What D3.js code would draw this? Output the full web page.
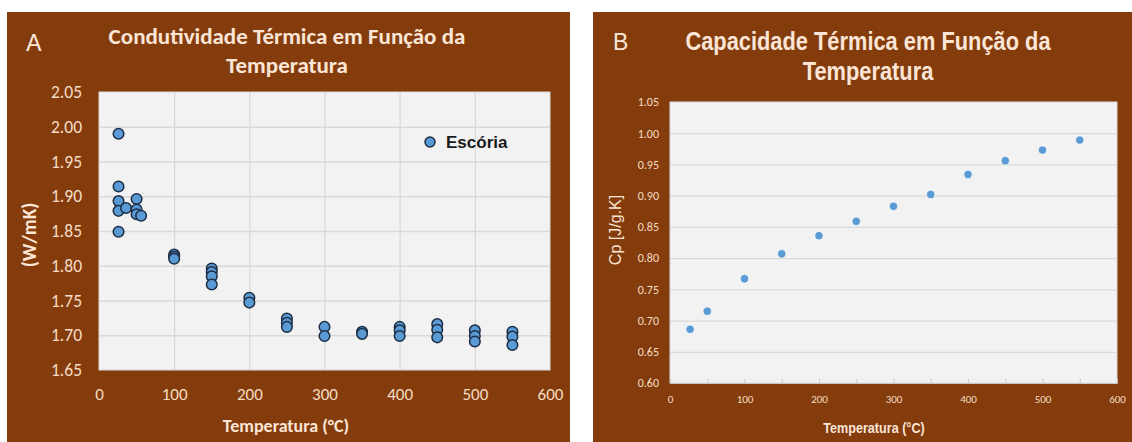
<!DOCTYPE html>
<html>
<head>
<meta charset="utf-8">
<script src="https://cdn.jsdelivr.net/npm/d3@7"></script>
<style>
  body { margin: 0; background: #fff; }
  svg { display: block; }
</style>
</head>
<body>
<div id="chart-area"></div>
<script>
// panel A - condutividade (escória)
const tempA = [26, 26, 26, 26, 26, 36, 50, 50, 50, 56, 100, 100, 100, 150, 150, 150, 150, 200, 200,
  250, 250, 250, 300, 300, 350, 350, 400, 400, 400, 450, 450, 450, 500, 500, 500, 550, 550, 550];
const condA = [1.990, 1.914, 1.893, 1.879, 1.849, 1.883, 1.896, 1.881, 1.874, 1.872, 1.816, 1.813, 1.810,
  1.796, 1.791, 1.785, 1.773, 1.754, 1.747, 1.724, 1.718, 1.712, 1.712, 1.699, 1.705, 1.702,
  1.712, 1.707, 1.699, 1.716, 1.708, 1.697, 1.707, 1.699, 1.691, 1.705, 1.698, 1.686];
const xTicksA = [0, 100, 200, 300, 400, 500, 600];
const yTicksA = [1.65, 1.70, 1.75, 1.80, 1.85, 1.90, 1.95, 2.00, 2.05];

// panel B - capacidade termica
const tempB = [27, 50, 100, 150, 200, 250, 300, 350, 400, 450, 500, 550];
const cpB = [0.686, 0.715, 0.767, 0.807, 0.836, 0.859, 0.883, 0.902, 0.934, 0.956, 0.973, 0.989];
const xTicksB = [0, 50, 100, 150, 200, 250, 300, 350, 400, 450, 500, 550, 600];
const yTicksB = [0.60, 0.65, 0.70, 0.75, 0.80, 0.85, 0.90, 0.95, 1.00, 1.05];

let width = 1132;
let height = 442;
let brown = '#843c0c';
let cream = '#fbe5d6';
let peach = '#f6dcc5';
let dotFill = '#5b9bd5';
let plotBg = '#f2f2f2';
let gridColor = '#d9d9d9';
let fontA = 'Carlito, Lato, sans-serif';
let fontB = '"Liberation Sans", Arial, sans-serif';
let narrow = 0.84; //no Arial Narrow installed, squeeze Arial instead

let svg = d3
  .select('#chart-area')
  .append('svg')
  .attr('width', width)
  .attr('height', height);

//backgrounds
svg.append('rect').attr('x', 7).attr('y', 12).attr('width', 563).attr('height', 430).attr('fill', brown);
svg.append('rect').attr('x', 593).attr('y', 12).attr('width', 539).attr('height', 430).attr('fill', brown);

// ---------- panel A ----------
let padA = { left: 99, right: 550, top: 92, bottom: 370 };
let xA = d3.scaleLinear().domain([0, 600]).range([padA.left, padA.right]);
let yA = d3.scaleLinear().domain([1.65, 2.05]).range([padA.bottom, padA.top]);

let gA = svg.append('g').attr('id', 'panel-a');

gA.append('rect')
  .attr('x', padA.left)
  .attr('y', padA.top)
  .attr('width', padA.right - padA.left)
  .attr('height', padA.bottom - padA.top)
  .attr('fill', plotBg)
  .attr('stroke', gridColor);

//grid
gA.append('g')
  .attr('transform', `translate(0, ${padA.bottom})`)
  .call(d3.axisBottom(xA).tickValues(xTicksA.slice(1, -1)).tickSize(-(padA.bottom - padA.top)).tickFormat(''))
  .call((g) => g.select('.domain').remove())
  .call((g) => g.selectAll('line').attr('stroke', gridColor).attr('stroke-width', 1.3));
gA.append('g')
  .attr('transform', `translate(${padA.left}, 0)`)
  .call(d3.axisLeft(yA).tickValues(yTicksA.slice(1, -1)).tickSize(-(padA.right - padA.left)).tickFormat(''))
  .call((g) => g.select('.domain').remove())
  .call((g) => g.selectAll('line').attr('stroke', gridColor).attr('stroke-width', 1.3));

//axes labels
gA.append('g')
  .attr('transform', `translate(0, ${padA.bottom})`)
  .call(d3.axisBottom(xA).tickValues(xTicksA).tickSize(0).tickPadding(18).tickFormat(d3.format('d')))
  .call((g) => g.select('.domain').remove())
  .call((g) => g.selectAll('text').attr('fill', peach).attr('font-size', 17).attr('font-family', fontA));
gA.append('g')
  .attr('transform', `translate(${padA.left}, 0)`)
  .call(d3.axisLeft(yA).tickValues(yTicksA).tickSize(0).tickPadding(17).tickFormat(d3.format('.2f')))
  .call((g) => g.select('.domain').remove())
  .call((g) => g.selectAll('text').attr('fill', peach).attr('font-size', 17.5).attr('font-family', fontA));

//titles
gA.append('text')
  .attr('x', 26)
  .attr('y', 51)
  .attr('fill', cream)
  .attr('font-family', fontA)
  .attr('font-size', 27)
  .text('A');
gA.append('text')
  .attr('text-anchor', 'middle')
  .attr('fill', cream)
  .attr('font-family', fontA)
  .attr('font-weight', 'bold')
  .attr('font-size', 23)
  .selectAll('tspan')
  .data(['Condutividade Térmica em Função da', 'Temperatura'])
  .enter()
  .append('tspan')
  .attr('x', 287)
  .attr('y', (d, i) => 44 + i * 29)
  .text((d) => d);
gA.append('text')
  .attr('text-anchor', 'middle')
  .attr('x', 286)
  .attr('y', 432)
  .attr('fill', cream)
  .attr('font-family', fontA)
  .attr('font-weight', 'bold')
  .attr('font-size', 18)
  .text('Temperatura (°C)');
gA.append('text')
  .attr('text-anchor', 'middle')
  .attr('transform', 'translate(36, 235) rotate(-90)')
  .attr('fill', cream)
  .attr('font-family', fontA)
  .attr('font-weight', 'bold')
  .attr('font-size', 19.5)
  .text('(W/mK)');

//points
gA.append('g')
  .selectAll('circle')
  .data(tempA)
  .enter()
  .append('circle')
  .attr('cx', (d) => xA(d))
  .attr('cy', (d, i) => yA(condA[i]))
  .attr('r', 5.3)
  .attr('fill', dotFill)
  .attr('stroke', '#1c2d44')
  .attr('stroke-width', 1.5);

//legend
gA.append('circle')
  .attr('cx', 430)
  .attr('cy', 142)
  .attr('r', 5)
  .attr('fill', dotFill)
  .attr('stroke', '#1c2d44')
  .attr('stroke-width', 1.5);
gA.append('text')
  .attr('x', 446)
  .attr('y', 148)
  .attr('fill', '#1a1a1a')
  .attr('font-family', fontB)
  .attr('font-weight', 'bold')
  .attr('font-size', 17)
  .text('Escória');

// ---------- panel B ----------
let padB = { left: 670, right: 1117, top: 102, bottom: 383 };
let xB = d3.scaleLinear().domain([0, 600]).range([padB.left, padB.right]);
let yB = d3.scaleLinear().domain([0.6, 1.05]).range([padB.bottom, padB.top]);

let gB = svg.append('g').attr('id', 'panel-b');

gB.append('rect')
  .attr('x', padB.left)
  .attr('y', padB.top)
  .attr('width', padB.right - padB.left)
  .attr('height', padB.bottom - padB.top)
  .attr('fill', plotBg)
  .attr('stroke', gridColor);

gB.append('g')
  .attr('transform', `translate(${padB.left}, 0)`)
  .call(d3.axisLeft(yB).tickValues(yTicksB.slice(1, -1)).tickSize(-(padB.right - padB.left)).tickFormat(''))
  .call((g) => g.select('.domain').remove())
  .call((g) => g.selectAll('line').attr('stroke', gridColor).attr('stroke-width', 1.3));

gB.append('g')
  .attr('transform', `translate(0, ${padB.bottom})`)
  .call(
    d3.axisBottom(xB).tickValues(xTicksB).tickSizeInner(-4).tickSizeOuter(0).tickPadding(12)
      .tickFormat((d) => (d % 100 == 0 ? d : '')),
  )
  .call((g) => g.select('.domain').attr('stroke', '#c8c8c8'))
  .call((g) => g.selectAll('line').attr('stroke', '#c8c8c8'))
  .call((g) => g.selectAll('text').attr('fill', peach).attr('font-size', 11).attr('font-family', fontA));
gB.append('g')
  .attr('transform', `translate(${padB.left}, 0)`)
  .call(d3.axisLeft(yB).tickValues(yTicksB).tickSize(0).tickPadding(11).tickFormat(d3.format('.2f')))
  .call((g) => g.select('.domain').remove())
  .call((g) => g.selectAll('text').attr('fill', peach).attr('font-size', 12).attr('font-family', fontA));

gB.append('text')
  .attr('x', 613)
  .attr('y', 50)
  .attr('fill', cream)
  .attr('font-family', fontB)
  .attr('font-size', 23)
  .text('B');
gB.append('g')
  .attr('transform', `translate(868, 0) scale(${narrow}, 1)`)
  .append('text')
  .attr('text-anchor', 'middle')
  .attr('fill', cream)
  .attr('font-family', fontB)
  .attr('font-weight', 'bold')
  .attr('font-size', 26)
  .selectAll('tspan')
  .data(['Capacidade Térmica em Função da', 'Temperatura'])
  .enter()
  .append('tspan')
  .attr('x', 0)
  .attr('y', (d, i) => 50 + i * 30)
  .text((d) => d);
gB.append('g')
  .attr('transform', `translate(874, 433) scale(${narrow}, 1)`)
  .append('text')
  .attr('text-anchor', 'middle')
  .attr('fill', cream)
  .attr('font-family', fontB)
  .attr('font-weight', 'bold')
  .attr('font-size', 15)
  .text('Temperatura (°C)');
gB.append('text')
  .attr('text-anchor', 'middle')
  .attr('transform', 'translate(621, 230) rotate(-90)')
  .attr('fill', cream)
  .attr('font-family', fontB)
  .attr('font-size', 16)
  .text('Cp [J/g.K]');

gB.append('g')
  .selectAll('circle')
  .data(tempB)
  .enter()
  .append('circle')
  .attr('cx', (d) => xB(d))
  .attr('cy', (d, i) => yB(cpB[i]))
  .attr('r', 4.2)
  .attr('fill', dotFill)
  .attr('stroke', '#ffffff')
  .attr('stroke-opacity', 0.6)
  .attr('stroke-width', 1.2);
</script>
</body>
</html>
